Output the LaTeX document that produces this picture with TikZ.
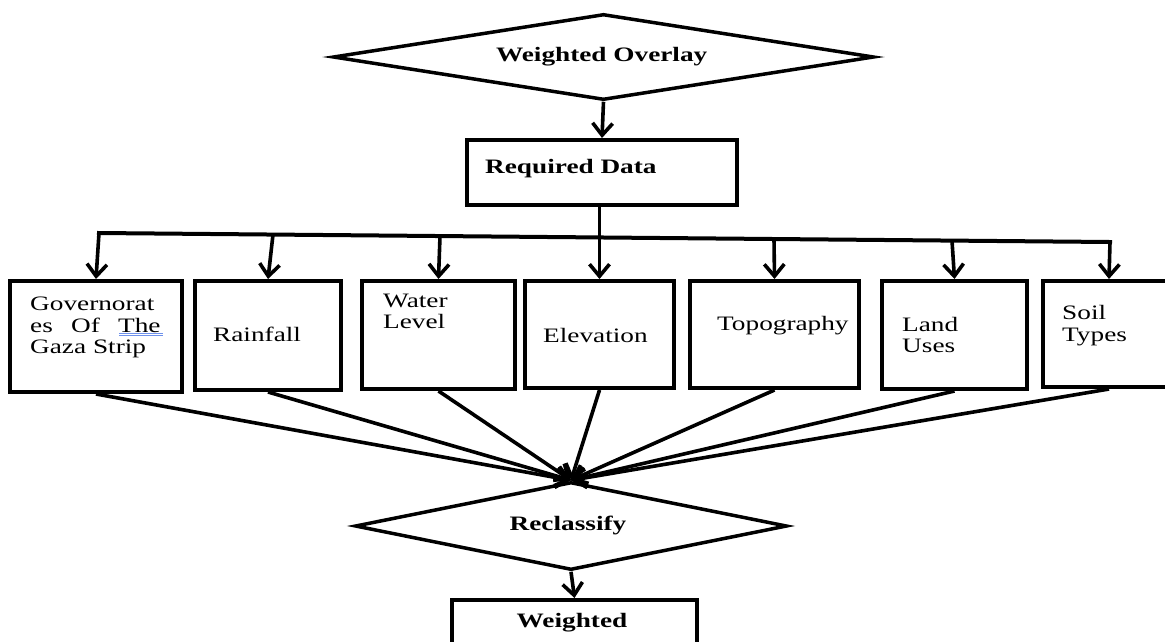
\documentclass[tikz,border=0pt]{standalone}
\usepackage{fontspec}
\usepackage{graphicx}
\setmainfont{Liberation Serif}
\usetikzlibrary{arrows.meta,shapes.geometric}
\definecolor{spellblue}{RGB}{110,145,235}
\newcommand{\sx}[1]{\scalebox{1.33}[1]{#1}}
\newcommand{\lines}[1]{\sx{\begin{tabular}[t]{@{}l@{}}#1\end{tabular}}}
\tikzset{
  box/.style={draw, rectangle, line width=4pt, inner sep=0pt},
  dia/.style={draw, diamond, line width=3.5pt, inner sep=0pt},
  conn/.style={line width=3.6pt, -{Straight Barb[length=12pt,width=20pt]}},
  bus/.style={line width=4pt, line cap=rect},
  lbl/.style={font=\fontsize{20.5}{21.5}\selectfont, inner sep=0pt, anchor=base west},
  blbl/.style={font=\fontsize{20.5}{21.5}\selectfont\bfseries, inner sep=0pt, anchor=base},
}
\begin{document}
\begin{tikzpicture}[x=1pt,y=-1pt]
\useasboundingbox (0,0) rectangle (1165,641);
% top diamond
\node[dia, minimum width=541pt, minimum height=86pt] (ovl) at (603.5,57) {};
\node[blbl] (ovlt) at (601.7,61) {\sx{Weighted Overlay}};
% required data
\node[box, minimum width=270pt, minimum height=65pt] (req) at (602,172.5) {};
\node[blbl, anchor=base west] (reqt) at (485,173) {\sx{Required Data}};
% data boxes
\node[box, minimum width=172pt, minimum height=111pt] (b1) at (96,336.5) {};
\node[box, minimum width=146pt, minimum height=109pt] (b2) at (268,335.5) {};
\node[box, minimum width=153pt, minimum height=108pt] (b3) at (438.5,335) {};
\node[box, minimum width=149pt, minimum height=107pt] (b4) at (599.5,334.5) {};
\node[box, minimum width=169pt, minimum height=107pt] (b5) at (774.5,334.5) {};
\node[box, minimum width=145pt, minimum height=108pt] (b6) at (954.5,335) {};
\node[box, minimum width=132pt, minimum height=106pt] (b7) at (1109,334) {};
% texts
\node[lbl] (t1) at (30,310.5) {\lines{Governorat\\\makebox[98pt][s]{es Of The}\\Gaza Strip}};
\draw[spellblue, line width=0.8pt] (119,333.3) -- (163,333.3);
\draw[spellblue, line width=0.8pt] (119,335.5) -- (163,335.5);
\node[lbl] (t2) at (213,341) {\sx{Rainfall}};
\node[lbl] (t3) at (383,307) {\lines{Water\\Level}};
\node[lbl] (t4) at (543,342.5) {\sx{Elevation}};
\node[lbl] (t5) at (717,330) {\sx{Topography}};
\node[lbl] (t6) at (902,331) {\lines{Land\\Uses}};
\node[lbl] (t7) at (1062,319.5) {\lines{Soil\\Types}};
% reclassify
\node[dia, minimum width=432pt, minimum height=88pt] (rec) at (571,526) {};
\node[blbl] (rect) at (568,530) {\sx{Reclassify}};
% weighted
\node[box, minimum width=245pt, minimum height=80pt] (wgt) at (574.5,640) {};
\node[blbl] (wgtt) at (572,627) {\sx{Weighted}};
% bus coordinates
\coordinate (p1) at (99,233);
\coordinate (p2) at (273,234.5);
\coordinate (p3) at (440,236);
\coordinate (p5) at (774,239);
\coordinate (p6) at (952,240.6);
\coordinate (p7) at (1110,242);
% connectors
\draw[conn] (ovl.south) -- (req.north);
\draw[bus] (p1) -- (p7);
\draw[conn] (req.south -| b4.north) -- (b4.north);
\draw[conn] (p1) -- (b1.north);
\draw[conn] (p2) -- (b2.north);
\draw[conn] (p3) -- (b3.north);
\draw[conn] (p5) -- (b5.north);
\draw[conn] (p6) -- (b6.north);
\draw[conn] (p7) -- (b7.north);
\foreach \b in {b1,b2,b3,b4,b5,b6,b7}
  \draw[conn] (\b.south) -- (rec.north);
\draw[conn] (rec.south) -- (wgt.north);
\end{tikzpicture}
\end{document}
